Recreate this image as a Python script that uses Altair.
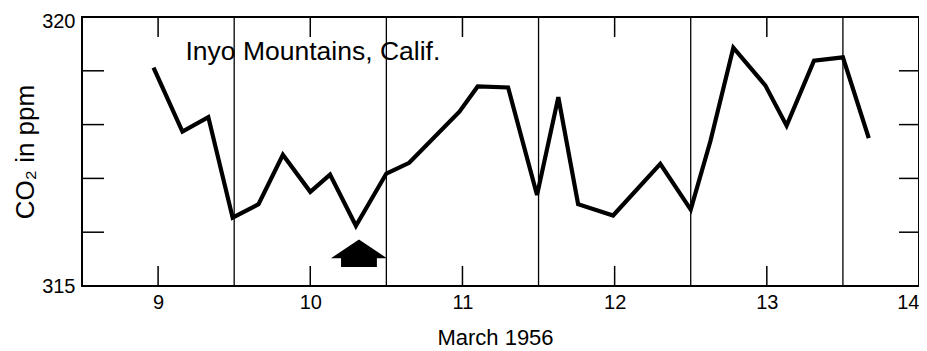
import altair as alt
import pandas as pd

# --- data ---
days = [8.97, 9.16, 9.33, 9.49, 9.66, 9.82, 10.0, 10.13, 10.30, 10.5, 10.65, 10.98,
        11.10, 11.30, 11.49, 11.63, 11.76, 11.99, 12.30, 12.5, 12.63, 12.78, 12.99,
        13.13, 13.31, 13.5, 13.67]
ppm = [319.06, 317.87, 318.14, 316.27, 316.52, 317.44, 316.75, 317.07, 316.12, 317.09,
       317.29, 318.24, 318.71, 318.69, 316.69, 318.51, 316.52, 316.31, 317.27, 316.42,
       317.70, 319.43, 318.73, 317.98, 319.19, 319.25, 317.75]
day_ticks = [9, 10, 11, 12, 13, 14]
day_bounds = [9.5, 10.5, 11.5, 12.5, 13.5]
ppm_minor = [316, 317, 318, 319]
ppm_labels = [315, 320]
site_label = ["Inyo Mountains, Calif."]
site_day = [9.18]
site_ppm = [319.2]
arrow_day = [10.32]
arrow_ppm = [315.61]

W, H = 837, 269
FONT = "Liberation Sans"

xs = alt.Scale(domain=[8.5, 14], nice=False, zero=False)
ys = alt.Scale(domain=[315, 320], nice=False, zero=False)

xaxis = alt.Axis(values=day_ticks, ticks=False, domain=False, grid=False,
                 labelFontSize=20, labelFlush=True, labelPadding=6, format="d",
                 labelColor="black", title="March 1956", titleFontSize=22,
                 titleFontWeight="normal", titlePadding=15, titleColor="black",
                 titleX=413)
yaxis = alt.Axis(values=ppm_labels, ticks=False, domain=False, grid=False,
                 labelFontSize=20, labelPadding=7, format="d", labelColor="black",
                 labelOffset=alt.ExprRef(expr="datum.value == 320 ? 4 : 0"),
                 title="CO₂ in ppm", titleFontSize=26, titleFontWeight="normal",
                 titlePadding=3, titleColor="black")

df = pd.DataFrame({"day": days, "ppm": ppm})
line = alt.Chart(df).mark_line(color="black", strokeWidth=4.2, strokeJoin="miter").encode(
    x=alt.X("day:Q", scale=xs, axis=xaxis),
    y=alt.Y("ppm:Q", scale=ys, axis=yaxis),
)

bounds_df = pd.DataFrame({"day": day_bounds})
grid = alt.Chart(bounds_df).mark_rule(color="black", strokeWidth=1.3).encode(
    x=alt.X("day:Q", scale=xs, axis=xaxis))

ticks_df = pd.DataFrame({"day": day_ticks})
top_ticks = alt.Chart(ticks_df).mark_rule(color="black", strokeWidth=1.5).encode(
    x=alt.X("day:Q", scale=xs, axis=xaxis), y=alt.value(0), y2=alt.value(20))
bot_ticks = alt.Chart(ticks_df).mark_rule(color="black", strokeWidth=1.5).encode(
    x=alt.X("day:Q", scale=xs, axis=xaxis), y=alt.value(H - 20), y2=alt.value(H))

pticks_df = pd.DataFrame({"ppm": ppm_minor})
left_ticks = alt.Chart(pticks_df).mark_rule(color="black", strokeWidth=1.5).encode(
    y=alt.Y("ppm:Q", scale=ys, axis=yaxis), x=alt.value(0), x2=alt.value(22))
right_ticks = alt.Chart(pticks_df).mark_rule(color="black", strokeWidth=1.5).encode(
    y=alt.Y("ppm:Q", scale=ys, axis=yaxis), x=alt.value(W - 20), x2=alt.value(W))

label_df = pd.DataFrame({"day": site_day, "ppm": site_ppm, "t": site_label})
label = alt.Chart(label_df).mark_text(align="left", baseline="alphabetic", fontSize=26.5,
                                       font=FONT, color="black").encode(
    x=alt.X("day:Q", scale=xs, axis=xaxis), y=alt.Y("ppm:Q", scale=ys, axis=yaxis),
    text="t:N")

arrow_path = "M0,-0.49 L1,0.18 L0.64,0.18 L0.64,0.49 L-0.64,0.49 L-0.64,0.18 L-1,0.18 Z"
arrow_df = pd.DataFrame({"day": arrow_day, "ppm": arrow_ppm})
arrow = alt.Chart(arrow_df).mark_point(shape=arrow_path, filled=True, color="black",
                                       opacity=1, size=3136, strokeWidth=0).encode(
    x=alt.X("day:Q", scale=xs, axis=xaxis), y=alt.Y("ppm:Q", scale=ys, axis=yaxis))

chart = alt.layer(grid, top_ticks, bot_ticks, left_ticks, right_ticks, line, label, arrow).properties(
    width=W, height=H,
    autosize=alt.AutoSizeParams(type="none"),
    padding={"left": 74, "top": 9, "right": 0, "bottom": 63},
    background="white",
).configure_view(stroke="black", strokeWidth=2).configure_axis(
    labelFont=FONT, titleFont=FONT
)

chart.save("out.html", embed_options={"renderer": "svg", "actions": False})
